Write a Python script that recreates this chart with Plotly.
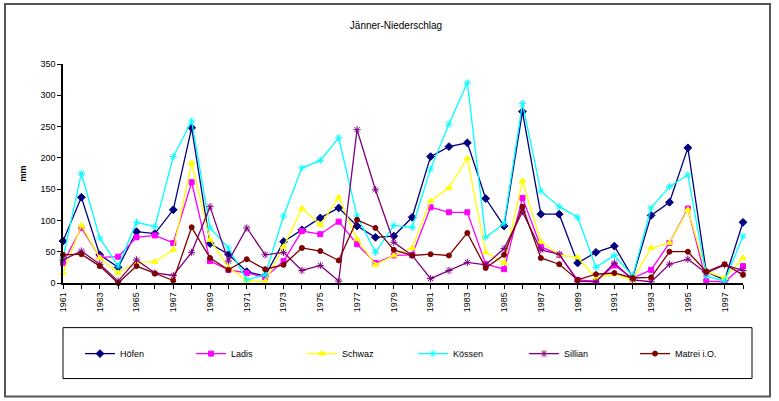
import plotly.graph_objects as go

# January precipitation (mm) per station, 1961-1998
years = list(range(1961, 1999))

hoefen = [67, 137, 45, 25, 82, 79, 117, 248, 63, 46,
          18, 11, 66, 85, 104, 120, 91, 73, 75, 105,
          202, 218, 224, 135, 91, 274, 110, 110, 32, 49,
          59, 9, 108, 129, 216, 18, 5, 97]
ladis = [32, 88, 41, 42, 73, 76, 64, 161, 35, 21,
         16, 9, 35, 83, 78, 98, 62, 32, 44, 45,
         121, 113, 113, 30, 22, 136, 58, 45, 5, 3,
         28, 8, 21, 64, 119, 3, 2, 27]
schwaz = [16, 92, 40, 16, 33, 34, 53, 192, 69, 25,
          4, 2, 58, 119, 93, 137, 70, 29, 44, 56,
          131, 152, 199, 49, 32, 163, 66, 45, 41, 8,
          14, 5, 56, 64, 117, 18, 8, 40]
koessen = [40, 175, 72, 27, 97, 90, 202, 259, 88, 56,
           5, 13, 107, 184, 196, 232, 107, 49, 92, 89,
           182, 254, 320, 73, 95, 287, 147, 122, 105, 25,
           44, 11, 120, 154, 173, 11, 3, 75]
sillian = [37, 51, 30, 3, 37, 16, 12, 49, 122, 35,
           88, 45, 49, 20, 28, 3, 245, 149, 65, 44,
           7, 20, 33, 29, 55, 114, 53, 46, 3, 2,
           32, 5, 2, 30, 38, 16, 29, 20]
matrei = [45, 46, 27, 0, 27, 15, 4, 89, 40, 21,
          38, 22, 29, 56, 51, 36, 101, 88, 53, 44,
          46, 44, 80, 24, 45, 122, 40, 30, 5, 14,
          16, 8, 9, 50, 50, 18, 30, 13]

series = [
    ("Höfen", hoefen, "#000080", "diamond", 6),
    ("Ladis", ladis, "#FF00FF", "square", 5),
    ("Schwaz", schwaz, "#FFFF00", "triangle-up", 6),
    ("Kössen", koessen, "#00FFFF", "asterisk-open", 6),
    ("Sillian", sillian, "#800080", "asterisk-open", 6),
    ("Matrei i.O.", matrei, "#800000", "circle", 5),
]

tick_labels = [str(y) if (y - 1961) % 2 == 0 else "" for y in years]

fig = go.Figure()
for name, vals, color, symbol, size in series:
    fig.add_trace(go.Scatter(
        x=years, y=vals, name=name, mode="lines+markers",
        line=dict(color=color, width=1.3),
        marker=dict(symbol=symbol, size=size, color=color,
                    line=dict(color=color, width=1)),
        cliponaxis=False,
    ))

font_family = "Liberation Sans, Arial, sans-serif"

# plot-area pixel geometry used to place the frames in paper coordinates
L, R, T, B = 63, 743, 64, 283.3
def px(x):
    return (x - L) / (R - L)
def py(y):
    return (B - y) / (B - T)

shapes = [
    # outer chart frame
    dict(type="rect", xref="paper", yref="paper",
         x0=px(5), x1=px(770), y0=py(397), y1=py(4),
         line=dict(color="#555555", width=2), layer="below"),
    # legend frame
    dict(type="rect", xref="paper", yref="paper",
         x0=px(63), x1=px(752), y0=py(379), y1=py(328),
         line=dict(color="#000000", width=1)),
]

fig.update_layout(
    width=779, height=401,
    margin=dict(l=L, r=779 - R, t=T, b=401 - B),
    paper_bgcolor="white", plot_bgcolor="white",
    font=dict(family=font_family, size=9, color="black"),
    title=dict(text="Jänner-Niederschlag", x=396 / 779, xanchor="center",
               xref="container", y=1 - 25 / 401, yanchor="middle",
               font=dict(size=10, color="black")),
    xaxis=dict(range=[1961, 1998], tickmode="array", tickvals=years,
               ticktext=tick_labels, tickangle=-90, ticks="outside",
               ticklen=4, tickcolor="black", showline=True,
               linecolor="black", linewidth=1.5, showgrid=False,
               zeroline=False, tickfont=dict(size=9)),
    yaxis=dict(range=[0, 350], dtick=50, ticks="outside", ticklen=4,
               tickcolor="black", showline=True, linecolor="black",
               linewidth=1.5, showgrid=False, zeroline=False,
               title=dict(text="<b>mm</b>", standoff=12, font=dict(size=9)),
               tickfont=dict(size=9)),
    legend=dict(orientation="h", x=px(80), xanchor="left",
                y=py(354), yanchor="middle", entrywidth=66,
                entrywidthmode="pixels", bgcolor="rgba(0,0,0,0)",
                font=dict(size=9), itemwidth=30),
    shapes=shapes,
    showlegend=True,
)

fig.write_html("out.html")
